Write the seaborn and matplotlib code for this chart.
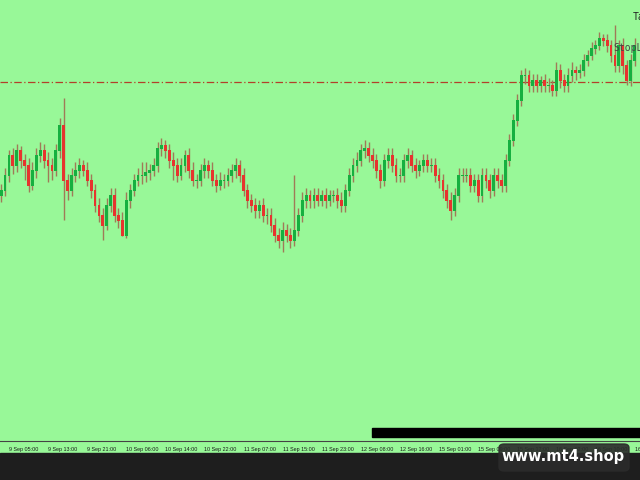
import numpy as np
import seaborn as sns
import matplotlib.pyplot as plt
from matplotlib.patches import Rectangle, FancyBboxPatch

# candle data (price in chart units)
opens = [285, 290, 305, 325, 315, 330, 320, 315, 295, 310,
         325, 330, 320, 315, 310, 330, 355, 300, 290, 305,
         310, 315, 310, 300, 290, 275, 265, 255, 275, 285,
         265, 260, 245, 280, 290, 300, 305, 305, 308, 310,
         315, 332, 335, 330, 320, 315, 305, 315, 325, 310,
         300, 300, 310, 315, 310, 300, 295, 300, 300, 305,
         310, 315, 305, 290, 280, 275, 270, 275, 265, 265,
         255, 245, 240, 250, 245, 240, 250, 265, 280, 285,
         280, 285, 280, 285, 280, 285, 285, 280, 275, 290,
         305, 315, 320, 330, 332, 325, 320, 310, 300, 320,
         325, 315, 305, 305, 320, 325, 315, 310, 315, 320,
         315, 315, 305, 300, 290, 280, 270, 285, 305, 305,
         305, 295, 300, 285, 305, 300, 290, 305, 300, 295,
         320, 340, 360, 380, 405, 405, 395, 400, 395, 400,
         395, 395, 390, 410, 400, 395, 405, 410, 408, 410,
         420, 425, 432, 435, 442, 440, 435, 425, 415, 435,
         415, 400, 420]
closes = [290, 305, 325, 315, 330, 320, 315, 295, 310, 325,
          330, 320, 315, 310, 330, 355, 300, 290, 305, 310,
          315, 310, 300, 290, 275, 265, 255, 275, 285, 265,
          260, 245, 280, 290, 300, 305, 305, 308, 310, 315,
          332, 335, 330, 320, 315, 305, 315, 325, 310, 300,
          300, 310, 315, 310, 300, 295, 300, 300, 305, 310,
          315, 305, 290, 280, 275, 270, 275, 265, 265, 255,
          245, 240, 250, 245, 240, 250, 265, 280, 285, 280,
          285, 280, 285, 280, 285, 285, 280, 275, 290, 305,
          315, 320, 330, 332, 325, 320, 310, 300, 320, 325,
          315, 305, 305, 320, 325, 315, 310, 315, 320, 315,
          315, 305, 300, 290, 280, 270, 285, 305, 305, 305,
          295, 300, 285, 305, 300, 290, 305, 300, 295, 320,
          340, 360, 380, 405, 405, 395, 400, 395, 400, 395,
          395, 390, 410, 400, 395, 405, 410, 408, 410, 420,
          425, 432, 435, 442, 440, 435, 425, 415, 435, 415,
          400, 420, 435]
highs = [296, 312, 330, 332, 336, 334, 326, 322, 318, 332,
         338, 336, 328, 322, 336, 362, 382, 306, 312, 318,
         322, 320, 318, 306, 296, 282, 272, 282, 292, 292,
         272, 268, 288, 296, 306, 312, 318, 318, 316, 322,
         338, 342, 340, 336, 328, 322, 322, 330, 332, 318,
         306, 316, 322, 320, 318, 306, 308, 306, 312, 316,
         322, 320, 312, 296, 286, 282, 280, 282, 272, 272,
         262, 252, 258, 256, 252, 305, 272, 288, 292, 290,
         292, 292, 290, 292, 290, 290, 292, 288, 296, 312,
         322, 328, 336, 340, 338, 332, 326, 316, 326, 332,
         332, 322, 312, 326, 332, 330, 322, 320, 326, 326,
         322, 322, 312, 306, 296, 288, 292, 312, 312, 312,
         312, 306, 306, 312, 312, 306, 312, 312, 306, 326,
         346, 366, 386, 410, 412, 410, 406, 406, 404, 406,
         402, 400, 418, 416, 406, 412, 418, 414, 416, 426,
         430, 438, 440, 448, 446, 446, 440, 455, 440, 442,
         420, 426, 442]
lows = [278, 284, 298, 306, 308, 312, 300, 288, 290, 302,
        318, 312, 298, 300, 304, 322, 260, 280, 284, 298,
        302, 304, 294, 282, 268, 258, 240, 250, 268, 258,
        252, 244, 242, 272, 284, 294, 296, 298, 300, 304,
        308, 324, 322, 312, 300, 298, 300, 308, 302, 294,
        292, 294, 302, 302, 294, 288, 290, 292, 294, 298,
        302, 298, 284, 272, 268, 262, 262, 258, 256, 248,
        238, 232, 228, 238, 232, 234, 244, 258, 272, 272,
        272, 274, 274, 272, 274, 278, 272, 268, 268, 284,
        298, 308, 314, 322, 318, 312, 302, 292, 294, 312,
        308, 298, 298, 298, 312, 308, 302, 304, 308, 308,
        308, 298, 292, 282, 272, 260, 264, 278, 298, 298,
        288, 288, 278, 278, 292, 282, 284, 292, 288, 288,
        314, 334, 354, 374, 396, 388, 388, 388, 388, 388,
        388, 384, 384, 392, 388, 388, 398, 400, 402, 404,
        414, 420, 426, 430, 434, 428, 418, 408, 408, 406,
        395, 394, 414]

tick_pos = [2, 12, 22, 32, 42, 52, 62, 72, 82, 92, 102, 112, 122, 132, 142, 152, 162]
tick_labels = ['9 Sep 05:00', '9 Sep 13:00', '9 Sep 21:00', '10 Sep 06:00', '10 Sep 14:00',
               '10 Sep 22:00', '11 Sep 07:00', '11 Sep 15:00', '11 Sep 23:00', '12 Sep 08:00',
               '12 Sep 16:00', '15 Sep 01:00', '15 Sep 09:00', '15 Sep 17:00', '16 Sep 02:00',
               '16 Sep 10:00', '16 Sep 18:00']
level = 398

bg = '#98f898'
sns.set_style('white')
plt.rcParams['font.family'] = ['Liberation Sans', 'DejaVu Sans']

fig = plt.figure(figsize=(6.4, 4.8), dpi=100, facecolor=bg)
ax = fig.add_axes([0, 39 / 480, 1, 441 / 480])
ax.set_facecolor(bg)

x = np.arange(len(closes))
o = np.array(opens)
c = np.array(closes)
up = c >= o
col = np.where(up, '#16b040', '#e6342e')

# wicks then bodies
ax.vlines(x, lows, highs, color='#a07a58', lw=1, zorder=2)
ax.bar(x, np.abs(c - o) + 1.0, bottom=np.minimum(o, c) - 0.5, width=0.72,
       color=col, lw=0, zorder=3)

ax.axhline(level, color='#b2402a', lw=0.9, ls=(0, (6, 2, 1, 2)), zorder=1)

ax.set_xlim(-0.3, 163.4)
ax.set_ylim(39, 480)
ax.set_yticks([])
ax.set_xticks(tick_pos)
ax.set_xticklabels(tick_labels, fontsize=3.9, ha='left', color='#1a1a1a')
ax.tick_params(axis='x', direction='out', length=3, width=0.7, color='#333333', pad=1.2)
for s in ['top', 'left', 'right']:
    ax.spines[s].set_visible(False)
ax.spines['bottom'].set_color('#444444')
ax.spines['bottom'].set_linewidth(0.8)

# clipped object labels at top right
fig.text(633 / 640, 1 - 17 / 480, 'Take', fontsize=7, family='DejaVu Sans Mono',
         color='#222222', va='center', ha='left')
fig.text(613 / 640, 1 - 48 / 480, 'StopLoss', fontsize=7, family='DejaVu Sans Mono',
         color='#444444', va='center', ha='left')

# scroll bar strip and dark footer
fig.patches.append(Rectangle((372 / 640, 43 / 480), 268 / 640, 9 / 480,
                             transform=fig.transFigure, color='black', zorder=5))
fig.patches.append(Rectangle((0, 0), 1, 27 / 480, transform=fig.transFigure,
                             color='#1e1e1e', zorder=4))
fig.patches.append(FancyBboxPatch((499 / 640, 9 / 480), 130 / 640, 27 / 480,
                                  boxstyle='round,pad=0,rounding_size=0.008',
                                  transform=fig.transFigure, color='#2b2b2b',
                                  alpha=0.9, zorder=6))
fig.text(563 / 640, 1 - 457 / 480, 'www.mt4.shop', fontsize=10.5, weight='bold',
         family='DejaVu Sans', color='white', ha='center', va='center', zorder=7)

fig.savefig('out.png', dpi=100, facecolor=bg)
